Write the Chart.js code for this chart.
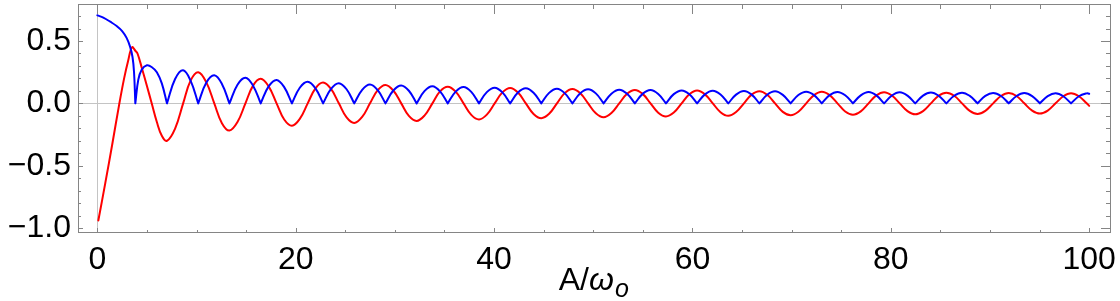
<!DOCTYPE html>
<html>
<head>
<meta charset="utf-8">
<script src="https://cdn.jsdelivr.net/npm/chart.js@4.4.1/dist/chart.umd.min.js"></script>
<style>
  body { margin: 0; background: #fff; }
  #wrap { width: 1120px; height: 301px; }
</style>
</head>
<body>
<div id="wrap"><canvas id="plot" width="1120" height="301"></canvas></div>
<script>
// values
const redHeadX = [0.1, 0.8, 1.5, 2.2, 2.7, 3.1, 3.5, 3.85, 4.05, 4.5, 5.0, 5.48, 6.0, 6.5];
const redHeadY = [-0.94, -0.64, -0.33, -0.01, 0.2, 0.34, 0.45, 0.42, 0.40, 0.28, 0.14, 0.0, -0.15, -0.26];

const blueHeadX = [0.0, 0.6, 1.3, 1.95, 2.5, 2.95, 3.3, 3.55, 3.7, 3.83, 4.13, 4.47, 5.0, 5.5, 6.0, 6.5];
const blueHeadY = [0.706, 0.688, 0.655, 0.62, 0.58, 0.525, 0.455, 0.37, 0.25, 0, 0.19, 0.27, 0.305, 0.29, 0.25, 0.16];

const waveX = [
  7.02, 7.84, 8.65, 9.41, 10.17, 10.98, 11.79, 12.56, 13.32, 14.13, 14.93, 15.70, 16.47, 17.27, 18.07, 18.84,
  19.62, 20.41, 21.21, 21.99, 22.76, 23.56, 24.35, 25.13, 25.90, 26.70, 27.49, 28.27, 29.05, 29.84, 30.64, 31.41,
  32.19, 32.98, 33.78, 34.55, 35.33, 36.13, 36.92, 37.70, 38.48, 39.27, 40.06, 40.84, 41.62, 42.41, 43.20, 43.98,
  44.76, 45.55, 46.34, 47.12, 47.90, 48.69, 49.48, 50.26, 51.04, 51.83, 52.62, 53.41, 54.19, 54.98, 55.77, 56.55,
  57.33, 58.12, 58.91, 59.69, 60.47, 61.26, 62.05, 62.83, 63.61, 64.40, 65.19, 65.97, 66.75, 67.54, 68.33, 69.11,
  69.90, 70.68, 71.47, 72.26, 73.04, 73.83, 74.62, 75.40, 76.18, 76.97, 77.76, 78.54, 79.32, 80.11, 80.90, 81.68,
  82.46, 83.25, 84.04, 84.82, 85.60, 86.39, 87.18, 87.96, 88.75, 89.53, 90.32, 91.11, 91.89, 92.68, 93.46, 94.25,
  95.03, 95.82, 96.61, 97.39, 98.17, 98.96, 99.75, 100
];

const redWave = [
  -0.300, -0.202, 0, 0.184, 0.250, 0.170, 0, -0.159, -0.218, -0.150, 0, 0.142, 0.197, 0.136, 0, -0.130,
  -0.180, -0.125, 0, 0.120, 0.167, 0.116, 0, -0.113, -0.157, -0.109, 0, 0.106, 0.148, 0.103, 0, -0.101,
  -0.141, -0.098, 0, 0.096, 0.134, 0.094, 0, -0.092, -0.129, -0.090, 0, 0.088, 0.124, 0.087, 0, -0.085,
  -0.119, -0.084, 0, 0.082, 0.115, 0.081, 0, -0.080, -0.112, -0.078, 0, 0.077, 0.108, 0.076, 0, -0.075,
  -0.105, -0.074, 0, 0.073, 0.103, 0.072, 0, -0.071, -0.100, -0.070, 0, 0.070, 0.098, 0.069, 0, -0.068,
  -0.095, -0.067, 0, 0.066, 0.093, 0.066, 0, -0.065, -0.091, -0.064, 0, 0.064, 0.090, 0.063, 0, -0.062,
  -0.088, -0.062, 0, 0.061, 0.086, 0.061, 0, -0.060, -0.085, -0.060, 0, 0.059, 0.083, 0.059, 0, -0.058,
  -0.082, -0.058, 0, 0.057, 0.081, 0.057, 0, -0.020
];

const blueWave = [
  0, 0.195, 0.265, 0.180, 0, 0.165, 0.225, 0.156, 0, 0.150, 0.206, 0.142, 0, 0.136, 0.188, 0.130,
  0, 0.125, 0.173, 0.120, 0, 0.116, 0.162, 0.113, 0, 0.109, 0.152, 0.106, 0, 0.103, 0.144, 0.101,
  0, 0.098, 0.137, 0.096, 0, 0.094, 0.131, 0.092, 0, 0.090, 0.126, 0.088, 0, 0.087, 0.121, 0.085,
  0, 0.084, 0.117, 0.082, 0, 0.081, 0.113, 0.080, 0, 0.078, 0.110, 0.077, 0, 0.076, 0.107, 0.075,
  0, 0.074, 0.104, 0.073, 0, 0.072, 0.101, 0.071, 0, 0.070, 0.099, 0.070, 0, 0.069, 0.097, 0.068,
  0, 0.067, 0.094, 0.066, 0, 0.066, 0.092, 0.065, 0, 0.064, 0.091, 0.064, 0, 0.063, 0.089, 0.062,
  0, 0.062, 0.087, 0.061, 0, 0.061, 0.086, 0.060, 0, 0.060, 0.084, 0.059, 0, 0.059, 0.083, 0.058,
  0, 0.058, 0.081, 0.057, 0, 0.057, 0.080, 0.077
];

const xMajor = [0, 20, 40, 60, 80, 100];
const xMinor = [5, 10, 15, 25, 30, 35, 45, 50, 55, 65, 70, 75, 85, 90, 95];
const yMajor = [-1.0, -0.5, 0.0, 0.5];
const yMinor = [-0.9, -0.8, -0.7, -0.6, -0.4, -0.3, -0.2, -0.1, 0.1, 0.2, 0.3, 0.4, 0.6, 0.7];

const FONT = '"Liberation Sans", Arial, sans-serif';

const redPoints = redHeadX.concat(waveX).map((x, i) => ({x, y: redHeadY.concat(redWave)[i]}));

// |.| curve: break the line at every zero so the cusps stay sharp
const blueXs = blueHeadX.concat(waveX);
const blueYs = blueHeadY.concat(blueWave);
const bluePoints = [];
blueXs.forEach((x, i) => {
  bluePoints.push({x, y: blueYs[i]});
  if (blueYs[i] === 0 && i > 0 && i < blueXs.length - 1) {
    bluePoints.push({x, y: null});
    bluePoints.push({x, y: 0});
  }
});

const frameTicks = {
  id: 'frameTicks',
  afterDraw(chart) {
    const {ctx, chartArea: a, scales: {x, y}} = chart;
    const line = (x1, y1, x2, y2) => { ctx.beginPath(); ctx.moveTo(x1, y1); ctx.lineTo(x2, y2); ctx.stroke(); };
    ctx.save();
    ctx.strokeStyle = '#858585';
    ctx.lineWidth = 1;
    ctx.strokeRect(a.left + 0.5, a.top + 0.5, a.right - a.left - 1, a.bottom - a.top - 1);
    const xt = (v, lb, lt) => {
      const p = Math.round(x.getPixelForValue(v)) + 0.5;
      line(p, a.bottom, p, a.bottom - lb);
      line(p, a.top, p, a.top + lt);
    };
    const yt = (v, ll, lr) => {
      const p = Math.round(y.getPixelForValue(v)) + 0.5;
      line(a.left, p, a.left + ll, p);
      line(a.right, p, a.right - lr, p);
    };
    xMajor.forEach(v => xt(v, 5, 10));
    xMinor.forEach(v => xt(v, 3, 5));
    yMajor.forEach(v => yt(v, 5, 10));
    yMinor.forEach(v => yt(v, 3, 5));
    ctx.restore();
  }
};

const axisTitle = {
  id: 'axisTitle',
  afterDraw(chart) {
    const {ctx, scales: {x}} = chart;
    const big = '32px ' + FONT, ital = 'italic 32px ' + FONT, sub = 'italic 25px ' + FONT;
    ctx.save();
    ctx.fillStyle = '#000';
    ctx.textBaseline = 'alphabetic';
    ctx.font = big; const w1 = ctx.measureText('A/').width;
    ctx.font = ital; const w2 = ctx.measureText('ω').width;
    ctx.font = sub; const w3 = ctx.measureText('o').width;
    let left = x.getPixelForValue(50) - (w1 + w2 + w3) / 2;
    const base = 290;
    ctx.font = big; ctx.fillText('A/', left, base); left += w1;
    ctx.font = ital; ctx.fillText('ω', left, base); left += w2 + 1;
    ctx.font = sub; ctx.fillText('o', left, base + 7);
    ctx.restore();
  }
};

new Chart(document.getElementById('plot'), {
  type: 'line',
  data: {
    datasets: [
      {data: bluePoints, borderColor: '#0000ff', borderWidth: 2, tension: 0.4, pointRadius: 0, borderCapStyle: 'round', borderJoinStyle: 'round'},
      {data: redPoints, borderColor: '#ff0000', borderWidth: 2, tension: 0.4, pointRadius: 0, borderCapStyle: 'round', borderJoinStyle: 'round'}
    ]
  },
  options: {
    responsive: false,
    animation: false,
    events: [],
    layout: {padding: {top: 4, right: 9, left: 0, bottom: 0}},
    plugins: {legend: {display: false}, tooltip: {enabled: false}},
    scales: {
      x: {
        type: 'linear',
        min: -1.95,
        max: 102.2,
        afterBuildTicks: s => { s.ticks = xMajor.map(v => ({value: v})); },
        afterFit: s => { s.height = 68; s.paddingLeft = 0; s.paddingRight = 0; },
        ticks: {color: '#000', font: {family: FONT, size: 32}, padding: 8, maxRotation: 0, autoSkip: false, callback: v => String(v)},
        grid: {drawTicks: false, color: c => c.tick && c.tick.value === 0 ? '#c4c4c4' : 'rgba(0,0,0,0)'},
        border: {display: false}
      },
      y: {
        min: -1.04,
        max: 0.797,
        afterBuildTicks: s => { s.ticks = yMajor.map(v => ({value: v})); },
        afterFit: s => { s.width = 78; s.paddingTop = 0; s.paddingBottom = 0; },
        ticks: {color: '#000', font: {family: FONT, size: 32}, padding: 7, autoSkip: false, callback: v => v.toFixed(1).replace('-', '\u2212')},
        grid: {drawTicks: false, color: c => c.tick && c.tick.value === 0 ? '#c4c4c4' : 'rgba(0,0,0,0)'},
        border: {display: false}
      }
    }
  },
  plugins: [frameTicks, axisTitle]
});
</script>
</body>
</html>
